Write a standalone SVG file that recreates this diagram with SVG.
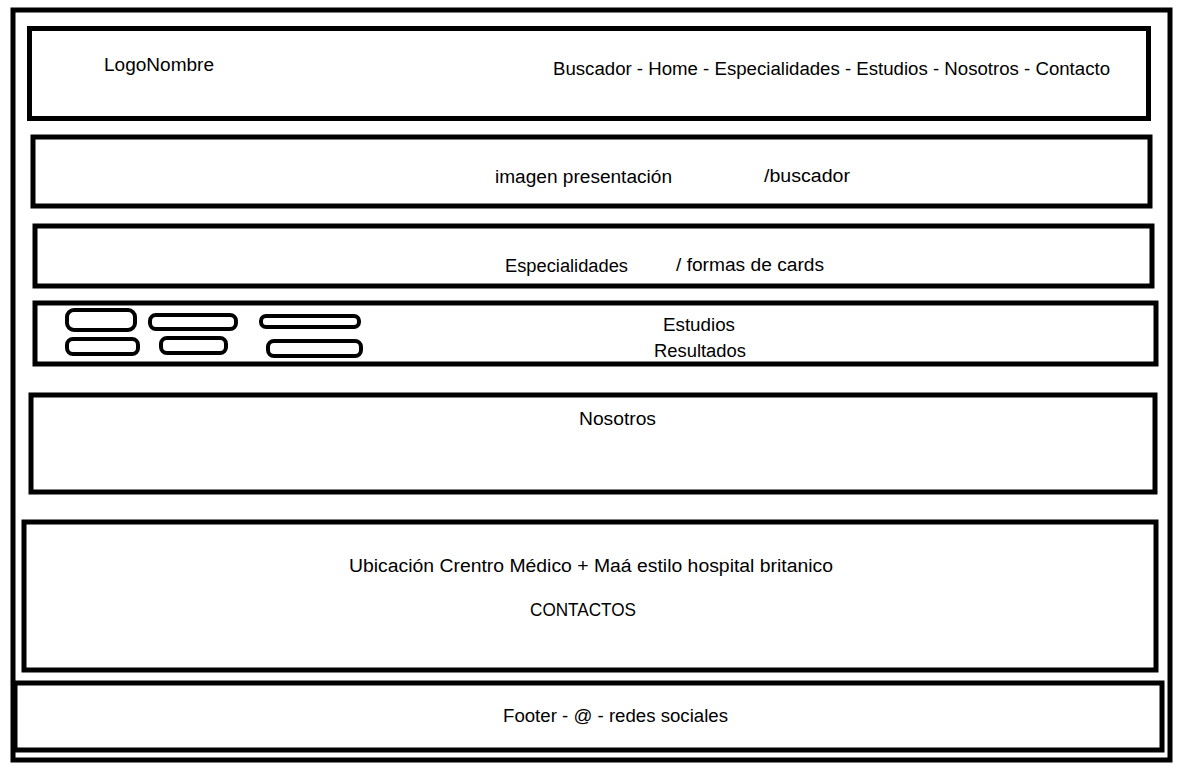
<svg xmlns="http://www.w3.org/2000/svg" width="1197" height="772" viewBox="0 0 1197 772">
<style>
.box{fill:none;stroke:#000;stroke-width:5}
.pill{fill:none;stroke:#000;stroke-width:4}
text{font-family:"Liberation Sans",Arial,sans-serif;font-size:18px;fill:#000}
</style>
<rect width="1197" height="772" fill="#fff"/>
<g id="frame"><rect class="box" x="13" y="10" width="1157" height="750"/></g>
<g id="header"><rect class="box" x="29.5" y="28.5" width="1119" height="90"/>
<text x="104" y="71" textLength="110" lengthAdjust="spacingAndGlyphs">LogoNombre</text>
<text x="553" y="75" textLength="557" lengthAdjust="spacingAndGlyphs">Buscador - Home - Especialidades - Estudios - Nosotros - Contacto</text></g>
<g id="hero"><rect class="box" x="33" y="137" width="1117" height="69"/>
<text x="495" y="183" textLength="177" lengthAdjust="spacingAndGlyphs">imagen presentación</text>
<text x="764" y="182" textLength="86" lengthAdjust="spacingAndGlyphs">/buscador</text></g>
<g id="especialidades"><rect class="box" x="35" y="226" width="1117" height="60"/>
<text x="505" y="272" textLength="123" lengthAdjust="spacingAndGlyphs">Especialidades</text>
<text x="676" y="271" textLength="148" lengthAdjust="spacingAndGlyphs">/ formas de cards</text></g>
<g id="estudios"><rect class="box" x="35" y="303" width="1121" height="61"/>
<rect class="pill" x="67" y="310" width="68" height="20" rx="7"/>
<rect class="pill" x="150" y="315" width="86" height="14" rx="6"/>
<rect class="pill" x="261" y="316" width="98" height="11" rx="5"/>
<rect class="pill" x="67" y="339" width="71" height="15" rx="6"/>
<rect class="pill" x="161" y="338" width="65" height="15" rx="6"/>
<rect class="pill" x="268" y="341" width="93" height="15" rx="6"/>
<text x="663" y="331" textLength="72" lengthAdjust="spacingAndGlyphs">Estudios</text>
<text x="654" y="357" textLength="92" lengthAdjust="spacingAndGlyphs">Resultados</text></g>
<g id="nosotros"><rect class="box" x="31" y="395" width="1124" height="97"/>
<text x="579" y="425" textLength="77" lengthAdjust="spacingAndGlyphs">Nosotros</text></g>
<g id="ubicacion"><rect class="box" x="24" y="522" width="1132" height="148"/>
<text x="349" y="572" textLength="484" lengthAdjust="spacingAndGlyphs">Ubicación Crentro Médico + Maá estilo hospital britanico</text>
<text x="530" y="616" textLength="106" lengthAdjust="spacingAndGlyphs">CONTACTOS</text></g>
<g id="footer"><rect class="box" x="15" y="683" width="1147" height="67"/>
<text x="503" y="722" textLength="225" lengthAdjust="spacingAndGlyphs">Footer - @ - redes sociales</text></g>
<g id="connectors"></g>
</svg>
